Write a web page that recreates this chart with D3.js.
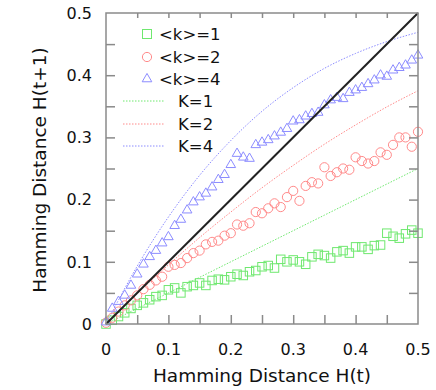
<!DOCTYPE html>
<html>
<head>
<meta charset="utf-8">
<script src="https://cdn.jsdelivr.net/npm/d3@7"></script>
<style>
  body { margin: 0; background: #fff; }
  text { font-family: "DejaVu Sans", sans-serif; }
</style>
</head>
<body>
<svg id="chart"></svg>
<script>
// ---- data
var hT = [0.00,0.01,0.02,0.03,0.04,0.05,0.06,0.07,0.08,0.09,
          0.10,0.11,0.12,0.13,0.14,0.15,0.16,0.17,0.18,0.19,
          0.20,0.21,0.22,0.23,0.24,0.25,0.26,0.27,0.28,0.29,
          0.30,0.31,0.32,0.33,0.34,0.35,0.36,0.37,0.38,0.39,
          0.40,0.41,0.42,0.43,0.44,0.45,0.46,0.47,0.48,0.49,0.50]
var k1_sim = [0.000,0.006,0.012,0.018,0.025,0.030,0.034,0.039,0.044,0.046,
              0.055,0.058,0.050,0.060,0.062,0.066,0.062,0.070,0.072,0.071,
              0.076,0.080,0.078,0.084,0.086,0.092,0.094,0.090,0.104,0.100,
              0.103,0.100,0.096,0.108,0.112,0.110,0.106,0.116,0.118,0.114,
              0.124,0.124,0.120,0.126,0.127,0.146,0.141,0.138,0.145,0.151,0.146]
var k2_sim = [0.002,0.010,0.020,0.030,0.038,0.046,0.056,0.063,0.070,0.076,
              0.092,0.095,0.098,0.106,0.114,0.118,0.128,0.132,0.134,0.142,
              0.146,0.160,0.158,0.162,0.180,0.178,0.186,0.194,0.188,0.204,
              0.214,0.198,0.222,0.228,0.226,0.252,0.238,0.244,0.250,0.248,
              0.268,0.262,0.258,0.262,0.276,0.272,0.288,0.300,0.300,0.285,0.309]
var k4_sim = [0.003,0.025,0.036,0.046,0.062,0.080,0.096,0.108,0.118,0.130,
              0.140,0.158,0.168,0.183,0.196,0.204,0.210,0.220,0.232,0.240,
              0.256,0.274,0.268,0.266,0.288,0.292,0.296,0.302,0.308,0.314,
              0.326,0.328,0.334,0.338,0.340,0.352,0.360,0.364,0.362,0.372,
              0.376,0.380,0.386,0.392,0.400,0.398,0.408,0.412,0.416,0.424,0.432]
// theory curves, every 0.05
var hLine = [0,0.05,0.10,0.15,0.20,0.25,0.30,0.35,0.40,0.45,0.50]
var K1_line = [0,0.025,0.050,0.075,0.100,0.125,0.150,0.175,0.200,0.225,0.250]
var K2_line = [0,0.049,0.095,0.139,0.180,0.219,0.255,0.289,0.320,0.349,0.375]
var K4_line = [0,0.093,0.172,0.239,0.295,0.342,0.380,0.411,0.435,0.454,0.469]
var diag = [0, 0.5]
var tickVals = [0,0.1,0.2,0.3,0.4,0.5]
var minorVals = [0.05,0.1,0.15,0.2,0.25,0.3,0.35,0.4,0.45]

var green = "#6fe86f", red = "#ff8a8a", blue = "#8c8cff"

var margin = { top: 13, right: 18, bottom: 66, left: 106 },
    W = 436, H = 390,
    width = W - margin.left - margin.right,
    height = H - margin.top - margin.bottom

var svg = d3.select("#chart").attr("width", W).attr("height", H)
var g = svg.append("g").attr("transform", "translate(" + margin.left + "," + margin.top + ")")

var x = d3.scaleLinear().domain([0, 0.5]).range([0, width])
var y = d3.scaleLinear().domain([0, 0.5]).range([height, 0])

//------------- theory lines
var line = d3.line().curve(d3.curveMonotoneX).x(d => x(d[0])).y(d => y(d[1]))
var theory = [[K1_line, green], [K2_line, red], [K4_line, blue]]
theory.forEach(t => {
    g.append("path").attr("d", line(hLine.map((h, i) => [h, t[0][i]])))
        .attr("fill", "none").attr("stroke", t[1]).attr("stroke-width", 1)
        .attr("stroke-dasharray", "1.5,1.5")
})

//------------- markers
var sq = 8.5, rc = 4.6
g.selectAll(".sq").data(hT.map((h, i) => [h, k1_sim[i]])).join("rect").attr("class", "sq")
    .attr("x", d => x(d[0]) - sq / 2).attr("y", d => y(d[1]) - sq / 2)
    .attr("width", sq).attr("height", sq)
    .attr("fill", "none").attr("stroke", green).attr("stroke-width", 1)
g.selectAll(".ci").data(hT.map((h, i) => [h, k2_sim[i]])).join("circle").attr("class", "ci")
    .attr("cx", d => x(d[0])).attr("cy", d => y(d[1])).attr("r", rc)
    .attr("fill", "none").attr("stroke", red).attr("stroke-width", 1)
var tri = d3.symbol().type(d3.symbolTriangle).size(40)
g.selectAll(".tr").data(hT.map((h, i) => [h, k4_sim[i]])).join("path").attr("class", "tr")
    .attr("d", tri).attr("transform", d => "translate(" + x(d[0]) + "," + y(d[1]) + ")")
    .attr("fill", "none").attr("stroke", blue).attr("stroke-width", 1)

//------------- diagonal
g.append("line").attr("x1", x(diag[0])).attr("y1", y(diag[0])).attr("x2", x(diag[1])).attr("y2", y(diag[1]))
    .attr("stroke", "#222").attr("stroke-width", 2)

//------------- frame and ticks
g.append("rect").attr("width", width).attr("height", height)
    .attr("fill", "none").attr("stroke", "#8a8a8a").attr("stroke-width", 1.5)

g.append("g").attr("transform", "translate(0," + height + ")")
    .call(d3.axisBottom(x).tickValues(minorVals).tickSize(-9).tickFormat(""))
    .call(a => a.select(".domain").remove())
g.append("g")
    .call(d3.axisTop(x).tickValues(minorVals).tickSize(-5).tickFormat(""))
    .call(a => a.select(".domain").remove())
g.append("g")
    .call(d3.axisLeft(y).tickValues(minorVals).tickSize(-9).tickFormat(""))
    .call(a => a.select(".domain").remove())
g.append("g").attr("transform", "translate(" + width + ",0)")
    .call(d3.axisRight(y).tickValues(minorVals).tickSize(-9).tickFormat(""))
    .call(a => a.select(".domain").remove())
g.selectAll(".tick line").attr("stroke", "#8a8a8a").attr("stroke-width", 1.5)

//------------- tick labels
g.selectAll(".xl").data(tickVals).join("text").attr("class", "xl")
    .attr("x", d => x(d)).attr("y", height + 31).attr("text-anchor", "middle")
    .attr("font-size", 16).attr("fill", "#111").text(d => d === 0 ? "0" : d3.format(".1f")(d))
g.selectAll(".yl").data(tickVals).join("text").attr("class", "yl")
    .attr("x", -14).attr("y", d => y(d)).attr("dy", "0.36em").attr("text-anchor", "end")
    .attr("font-size", 16).attr("fill", "#111").text(d => d === 0 ? "0" : d3.format(".1f")(d))

//------------- axis titles
svg.append("text").attr("x", 262).attr("y", 382).attr("text-anchor", "middle")
    .attr("font-size", 18.5).attr("fill", "#111").text("Hamming Distance H(t)")
svg.append("text").attr("transform", "translate(46,170) rotate(-90)").attr("text-anchor", "middle")
    .attr("font-size", 18.5).attr("fill", "#111").text("Hamming Distance H(t+1)")

//------------- legend
var lg = svg.append("g")
var legMarks = [["<k>=1", "sq", green, 34], ["<k>=2", "ci", red, 57], ["<k>=4", "tr", blue, 79]]
legMarks.forEach(l => {
    if (l[1] === "sq") lg.append("rect").attr("x", 147 - 4.5).attr("y", l[3] - 4.5).attr("width", 9).attr("height", 9)
        .attr("fill", "none").attr("stroke", l[2])
    if (l[1] === "ci") lg.append("circle").attr("cx", 147).attr("cy", l[3]).attr("r", 4.6)
        .attr("fill", "none").attr("stroke", l[2])
    if (l[1] === "tr") lg.append("path").attr("d", tri).attr("transform", "translate(147," + l[3] + ")")
        .attr("fill", "none").attr("stroke", l[2])
    lg.append("text").attr("x", 159).attr("y", l[3]).attr("dy", "0.36em")
        .attr("font-size", 16.5).attr("fill", "#111").text(l[0])
})
var legLines = [["K=1", green, 101], ["K=2", red, 124], ["K=4", blue, 146]]
legLines.forEach(l => {
    lg.append("line").attr("x1", 123).attr("x2", 165).attr("y1", l[2]).attr("y2", l[2])
        .attr("stroke", l[1]).attr("stroke-dasharray", "1.5,1.5")
    lg.append("text").attr("x", 178).attr("y", l[2]).attr("dy", "0.36em")
        .attr("font-size", 16.5).attr("fill", "#111").text(l[0])
})
</script>
</body>
</html>
